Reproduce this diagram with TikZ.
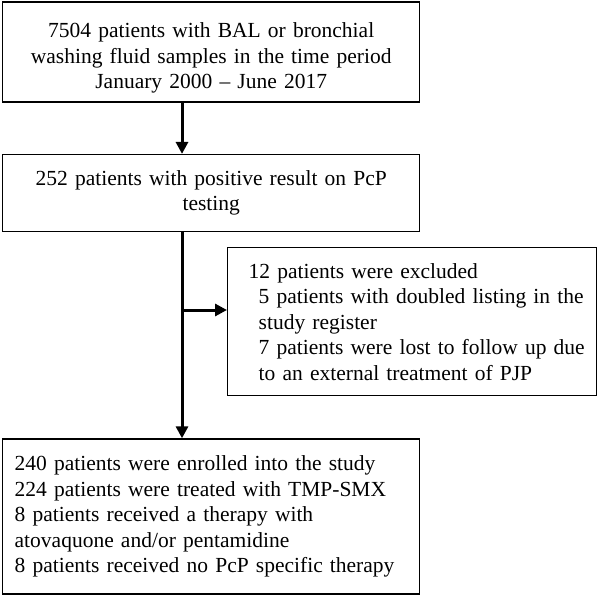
\documentclass[tikz,border=0pt]{standalone}
\usepackage{fontspec}
\setmainfont{Liberation Serif}
\usetikzlibrary{positioning,arrows.meta}
\begin{document}
\begin{tikzpicture}[x=1bp, y=1bp, >={Triangle[width=12bp,length=12bp]},
  box/.style={draw, line width=1.4bp, inner ysep=0pt, font=\fontsize{21.5bp}{25.5bp}\selectfont},
  mainbox/.style={box, minimum width=417bp, inner xsep=12bp, text width=393bp},
  flow/.style={->, line width=3bp}]
  \useasboundingbox (0,0) rectangle (598,-595);
  % main column
  \node[mainbox, align=center, minimum height=100bp, anchor=north west] (period) at (2,-1.5)
    {\rule{0pt}{27bp}7504 patients with BAL or bronchial\\washing fluid samples in the time period\\January 2000 -- June 2017};
  \node[mainbox, align=center, minimum height=77bp, below=51bp of period] (positive)
    {252 patients with positive result on PcP\\testing};
  \node[mainbox, align=left, minimum height=155bp, below=206bp of positive] (enrolled)
    {240 patients were enrolled into the study\\224 patients were treated with TMP-SMX\\8 patients received a therapy with\\atovaquone and/or pentamidine\\8 patients received no PcP specific therapy};
  % exclusions
  \node[box, align=left, minimum width=369bp, minimum height=148bp, inner xsep=4bp, text width=361bp, anchor=north west] (excluded) at (227,-247)
    {\hspace*{17bp}12 patients were excluded\\\hspace*{27bp}5 patients with doubled listing in the\\\hspace*{27bp}study register\\\hspace*{27bp}7 patients were lost to follow up due\\\hspace*{27bp}to an external treatment of PJP};
  % connectors
  \coordinate (trunk) at (182,0);
  \coordinate (branch) at (182,-310);
  \draw[flow] (period.south -| trunk) -- (positive.north -| trunk);
  \draw[flow] (positive.south -| trunk) -- (enrolled.north -| trunk);
  \draw[flow] (branch) -- (branch -| excluded.west);
\end{tikzpicture}
\end{document}
